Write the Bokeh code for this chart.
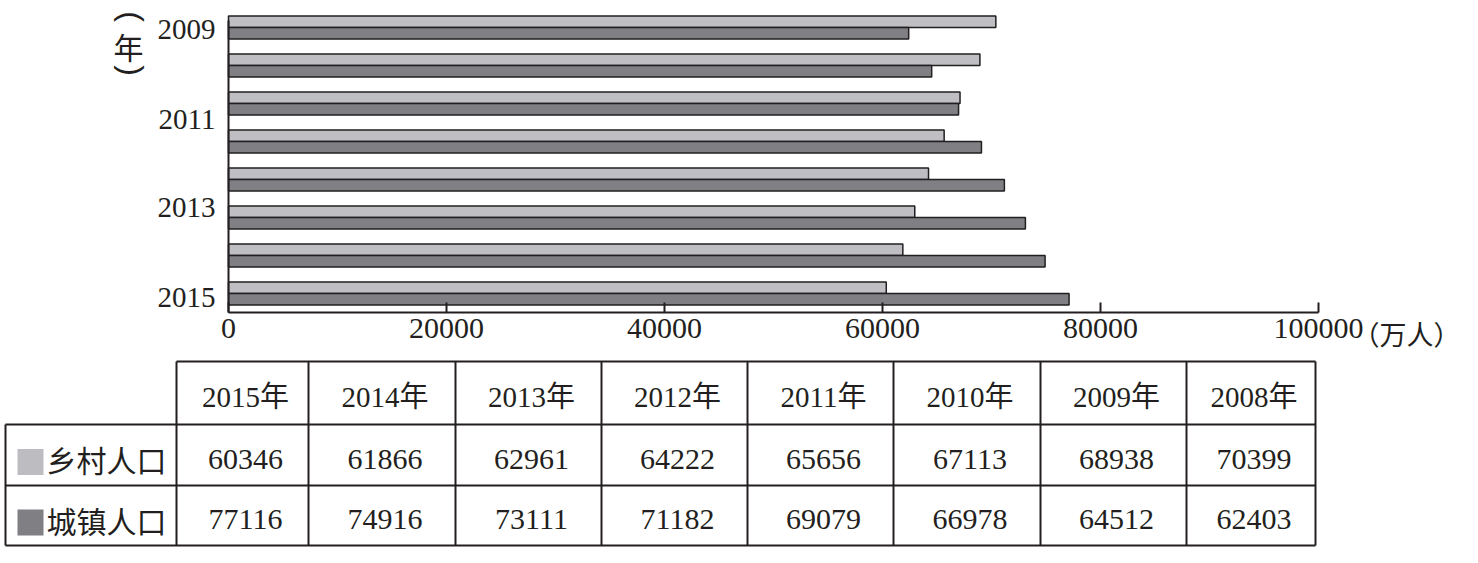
import math
from bokeh.plotting import figure
from bokeh.models import Range1d, FixedTicker, LinearAxis, ColumnDataSource
from bokeh.transform import dodge
from bokeh.embed import file_html
from bokeh.resources import INLINE
from bokeh.core.properties import value

# ---- data ----
years = [2015, 2014, 2013, 2012, 2011, 2010, 2009, 2008]
rural = [60346, 61866, 62961, 64222, 65656, 67113, 68938, 70399]
urban = [77116, 74916, 73111, 71182, 69079, 66978, 64512, 62403]
series_names = ["乡村人口", "城镇人口"]
x_ticks = [0, 20000, 40000, 60000, 80000, 100000]
y_tick_labels = ["2009", "2011", "2013", "2015"]
y_tick_pos = [0.05, 2.42, 4.74, 7.1]
x_unit = "（万人）"
y_unit_open, y_unit_char, y_unit_close = "(", "年", ")"

# ---- style / layout ----
LIGHT = "#bfbfc3"
DARK = "#7f7f84"
EDGE = "#231f20"
SERIF = "'Liberation Serif', 'Noto Sans CJK SC'"
CJK = "Noto Sans CJK SC"
W, H = 1462, 547
AX_L, AX_R = 228, 1318          # pixel span of 0 .. 100000
XMAX = 100000
per_px = XMAX / (AX_R - AX_L)
GROUP_PX = 38.0                 # pixels per year slot
TOP_VAL = -27 / GROUP_PX        # value at the top edge of the canvas

src = ColumnDataSource(dict(idx=[y - years[-1] for y in years], rural=rural, urban=urban))

p = figure(width=W, height=H, output_backend="svg", toolbar_location=None,
           x_range=Range1d(-AX_L * per_px, XMAX + (W - AX_R) * per_px),
           y_range=Range1d(TOP_VAL + H / GROUP_PX, TOP_VAL),
           x_axis_type=None, y_axis_type=None, min_border=0)
p.extra_x_ranges = {"px": Range1d(0, W)}
p.extra_y_ranges = {"py": Range1d(H, 0)}
p.xgrid.visible = False
p.ygrid.visible = False
p.outline_line_color = None

p.hbar(y=dodge("idx", -0.15), left=0, right="rural", height=0.3, source=src,
       fill_color=LIGHT, line_color=EDGE, line_width=1.5)
p.hbar(y=dodge("idx", 0.15), left=0, right="urban", height=0.3, source=src,
       fill_color=DARK, line_color=EDGE, line_width=1.5)

n = len(years)
y_bottom = n - 0.5
xa = LinearAxis(fixed_location=y_bottom, bounds=(0, XMAX))
xa.ticker = FixedTicker(ticks=x_ticks)
xa.major_label_overrides = {t: str(t) for t in x_ticks}
xa.major_tick_in = 10
xa.major_tick_out = 0
xa.minor_tick_line_color = None
xa.axis_line_width = 2
xa.axis_line_color = EDGE
xa.major_tick_line_width = 2
xa.major_tick_line_color = EDGE
xa.major_label_standoff = 6
xa.major_label_text_font = SERIF
xa.major_label_text_font_size = "30px"
xa.major_label_text_color = EDGE
p.add_layout(xa, "below")

ya = LinearAxis(fixed_location=0, bounds=(TOP_VAL + 20 / GROUP_PX, y_bottom))
ya.ticker = FixedTicker(ticks=y_tick_pos)
ya.major_label_overrides = {pos: lab for pos, lab in zip(y_tick_pos, y_tick_labels)}
ya.major_tick_line_color = None
ya.minor_tick_line_color = None
ya.major_tick_in = 0
ya.major_tick_out = 0
ya.major_label_standoff = 13
ya.axis_line_width = 2
ya.axis_line_color = EDGE
ya.major_label_text_font = SERIF
ya.major_label_text_font_size = "29px"
ya.major_label_text_color = EDGE
p.add_layout(ya, "left")

# unit labels (pixel coordinates)
p.text(x=[1352], y=[333], text=[x_unit], x_range_name="px", y_range_name="py",
       text_font=value(CJK), text_font_size="27px", text_align="left",
       text_baseline="middle", text_color=EDGE)
p.text(x=[131, 131], y=[16, 70], text=[y_unit_open, y_unit_close],
       x_range_name="px", y_range_name="py", angle=-math.pi / 2,
       text_font=value("Liberation Sans"), text_font_size="32px", text_align="center",
       text_baseline="middle", text_color=EDGE)
p.text(x=[128], y=[45], text=[y_unit_char], x_range_name="px", y_range_name="py",
       text_font=value(CJK), text_font_size="30px", text_align="center",
       text_baseline="middle", text_color=EDGE)

# ---- table (pixel coordinates) ----
col_x = [5, 176, 308, 455, 601, 747, 893, 1040, 1186, 1315]
row_y = [361, 424, 485, 545]

x0s, y0s, x1s, y1s = [], [], [], []
x0s.append(col_x[1]); x1s.append(col_x[-1]); y0s.append(row_y[0]); y1s.append(row_y[0])
for ry in row_y[1:]:
    x0s.append(col_x[0]); x1s.append(col_x[-1]); y0s.append(ry); y1s.append(ry)
x0s.append(col_x[0]); x1s.append(col_x[0]); y0s.append(row_y[1]); y1s.append(row_y[-1])
for cx in col_x[1:]:
    x0s.append(cx); x1s.append(cx); y0s.append(row_y[0]); y1s.append(row_y[-1])
p.segment(x0=x0s, y0=y0s, x1=x1s, y1=y1s, line_color=EDGE, line_width=2,
          x_range_name="px", y_range_name="py")

cx_c = [(col_x[i] + col_x[i + 1]) / 2 + 3 for i in range(1, len(col_x) - 1)]
ry_c = [(row_y[i] + row_y[i + 1]) / 2 + 4 for i in range(3)]
common = dict(x_range_name="px", y_range_name="py", text_align="center",
              text_baseline="middle", text_color=EDGE)
p.text(x=cx_c, y=[ry_c[0]] * n, text=[f"{y}年" for y in years],
       text_font=value(SERIF), text_font_size="29px", **common)
p.text(x=cx_c, y=[ry_c[1]] * n, text=[str(v) for v in rural],
       text_font=value(SERIF), text_font_size="30px", **common)
p.text(x=cx_c, y=[ry_c[2]] * n, text=[str(v) for v in urban],
       text_font=value(SERIF), text_font_size="30px", **common)

# legend swatches + names
p.rect(x=[30, 30], y=[ry_c[1] + 3, ry_c[2] + 3], width=26, height=26,
       fill_color=["#bdbdc1", "#7f7f84"], line_color=None,
       x_range_name="px", y_range_name="py")
p.text(x=[46, 46], y=[ry_c[1], ry_c[2]], text=series_names,
       x_range_name="px", y_range_name="py",
       text_font=value(CJK), text_font_size="30px", text_align="left",
       text_baseline="middle", text_color=EDGE)

open("out.html", "w").write(file_html(p, INLINE))
